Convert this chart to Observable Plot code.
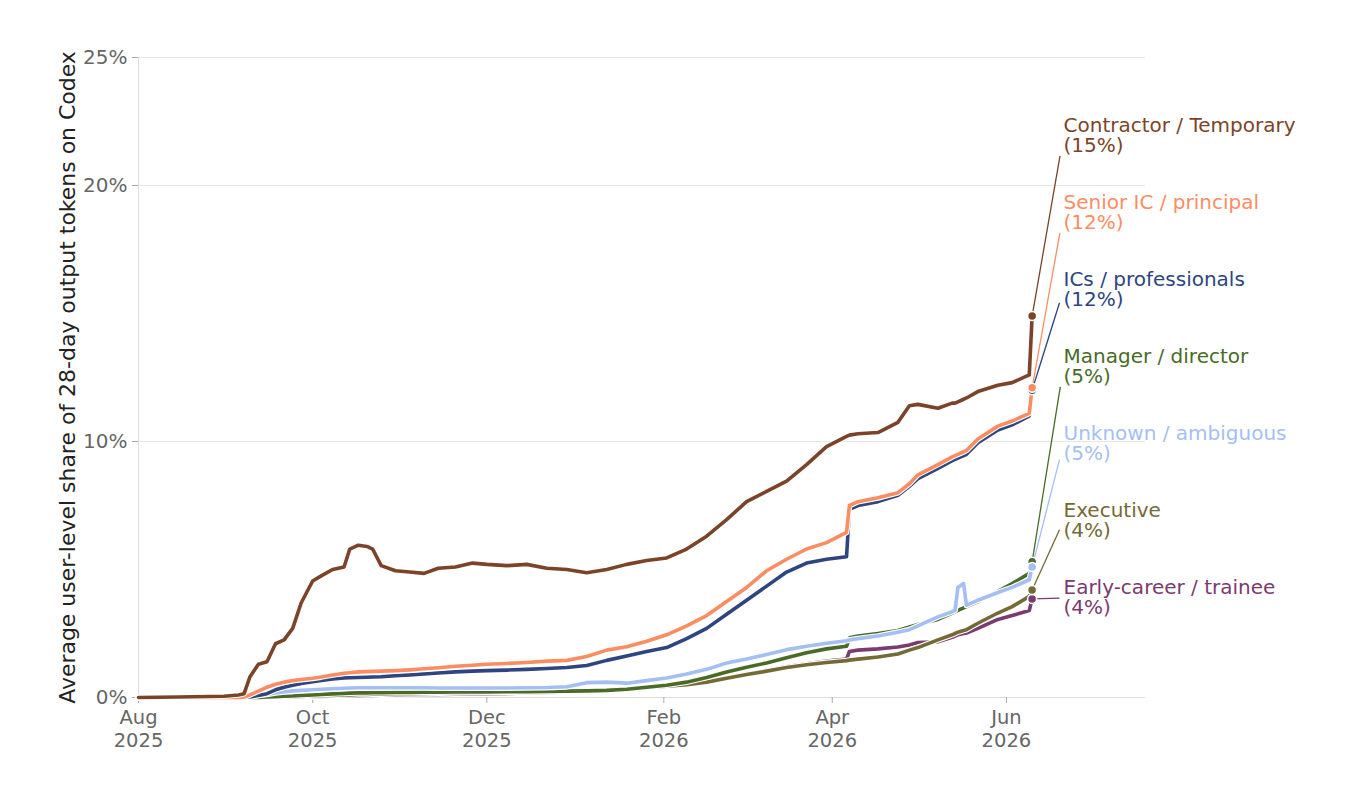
<!DOCTYPE html>
<html><head><meta charset="utf-8">
<script src="https://cdn.jsdelivr.net/npm/d3@7"></script>
<script src="https://cdn.jsdelivr.net/npm/@observablehq/plot@0.6"></script>
<style>body{margin:0;background:#fff;} svg{display:block}</style>
</head><body><div id="chart"></div>
<script>
const dates = [
"2025-08-01","2025-08-15","2025-08-31","2025-09-05","2025-09-07","2025-09-09","2025-09-12","2025-09-15","2025-09-18","2025-09-21",
"2025-09-24","2025-09-27","2025-10-01","2025-10-04","2025-10-08","2025-10-12","2025-10-14","2025-10-17","2025-10-20","2025-10-22",
"2025-10-25","2025-10-30","2025-11-04","2025-11-09","2025-11-14","2025-11-20","2025-11-26","2025-12-01","2025-12-08","2025-12-15",
"2025-12-22","2025-12-29","2026-01-05","2026-01-12","2026-01-19","2026-01-26","2026-02-02","2026-02-09","2026-02-16","2026-02-23",
"2026-03-02","2026-03-09","2026-03-16","2026-03-23","2026-03-30","2026-04-06","2026-04-07","2026-04-10","2026-04-17","2026-04-24",
"2026-04-28","2026-05-01","2026-05-08","2026-05-13","2026-05-14","2026-05-15","2026-05-17","2026-05-18","2026-05-22","2026-05-29",
"2026-06-03","2026-06-09","2026-06-10"];

const contractor = [
0,0.02,0.05,0.1,0.15,0.8,1.3,1.4,2.1,2.25,
2.7,3.7,4.55,4.75,5.0,5.1,5.8,5.95,5.9,5.8,
5.15,4.95,4.9,4.85,5.05,5.1,5.25,5.2,5.15,5.2,
5.05,5.0,4.87,5.0,5.2,5.35,5.45,5.8,6.3,6.95,
7.65,8.05,8.45,9.1,9.8,10.2,10.25,10.3,10.35,10.75,
11.4,11.45,11.3,11.5,11.5,11.55,11.65,11.7,11.95,12.2,
12.3,12.6,14.9];
const seniorIC = [
0,0,0,0,0.02,0.1,0.25,0.4,0.52,0.6,
0.66,0.7,0.75,0.8,0.88,0.95,0.97,1.0,1.01,1.02,
1.03,1.05,1.08,1.12,1.16,1.22,1.26,1.3,1.33,1.37,
1.42,1.45,1.6,1.85,1.98,2.2,2.45,2.8,3.2,3.75,
4.3,4.95,5.4,5.8,6.05,6.45,7.5,7.65,7.8,8.0,
8.35,8.7,9.1,9.4,9.45,9.5,9.6,9.65,10.1,10.6,
10.8,11.1,12.1];
const ics = [
0,0,0,0,0,0.02,0.08,0.15,0.3,0.4,
0.48,0.55,0.62,0.67,0.72,0.76,0.77,0.78,0.79,0.8,
0.81,0.85,0.88,0.92,0.96,1.0,1.03,1.05,1.07,1.1,
1.13,1.17,1.25,1.45,1.62,1.8,1.95,2.3,2.7,3.25,
3.8,4.35,4.9,5.25,5.4,5.5,7.35,7.5,7.65,7.9,
8.25,8.55,8.95,9.25,9.3,9.35,9.45,9.5,9.95,10.45,
10.65,11.0,12.0];
const manager = [
0,0,0,0,0,0,0,0.02,0.03,0.05,
0.06,0.08,0.1,0.12,0.14,0.16,0.17,0.18,0.18,0.19,
0.19,0.2,0.2,0.21,0.21,0.22,0.22,0.22,0.23,0.23,
0.24,0.25,0.26,0.28,0.32,0.4,0.48,0.6,0.78,1.0,
1.18,1.35,1.55,1.75,1.9,2.0,2.33,2.4,2.5,2.62,
2.75,2.85,3.05,3.3,3.35,3.4,3.5,3.55,3.75,4.15,
4.45,4.85,5.3];
const unknown = [
0,0,0,0,0,0.03,0.08,0.12,0.18,0.22,
0.26,0.28,0.3,0.32,0.34,0.36,0.37,0.38,0.38,0.38,
0.38,0.38,0.38,0.38,0.37,0.37,0.37,0.37,0.37,0.38,
0.39,0.42,0.58,0.6,0.56,0.66,0.76,0.92,1.1,1.35,
1.5,1.68,1.87,2.0,2.12,2.22,2.25,2.3,2.4,2.55,
2.65,2.8,3.15,3.35,3.4,4.3,4.45,3.6,3.8,4.1,
4.3,4.6,5.1];
const executive = [
0,0,0,0,0,0,0,0,0.01,0.02,
0.03,0.04,0.06,0.07,0.08,0.1,0.1,0.12,0.12,0.13,
0.13,0.15,0.15,0.16,0.17,0.18,0.19,0.2,0.21,0.22,
0.23,0.25,0.27,0.3,0.33,0.38,0.44,0.5,0.6,0.75,
0.9,1.03,1.17,1.28,1.37,1.44,1.46,1.5,1.58,1.7,
1.85,1.95,2.25,2.45,2.5,2.55,2.62,2.65,2.9,3.3,
3.55,3.95,4.2];
const earlyCareer = [
0,0,0,0,0,0,0,0,0,0,
0.01,0.02,0.03,0.04,0.05,0.06,0.06,0.07,0.08,0.08,
0.09,0.1,0.11,0.12,0.12,0.13,0.14,0.15,0.16,0.18,
0.2,0.22,0.25,0.28,0.31,0.36,0.41,0.5,0.6,0.75,
0.9,1.05,1.2,1.32,1.42,1.5,1.8,1.85,1.9,1.97,
2.05,2.15,2.18,2.35,2.4,2.45,2.5,2.52,2.7,3.05,
3.2,3.4,3.85];

const seriesNames = ["Contractor / Temporary","Senior IC / principal","ICs / professionals","Manager / director","Unknown / ambiguous","Executive","Early-career / trainee"];
const seriesColors = ["#7b4429","#fc8d62","#2e4580","#4a6b26","#a4bff4","#736a35","#7b3a70"];
const xTickDates = ["2025-08-01","2025-10-01","2025-12-01","2026-02-01","2026-04-01","2026-06-01"];
const yTicks = [0,10,20,25];
const yGrid = [10,20,25];
const yLabel = "Average user-level share of 28-day output tokens on Codex";

const seriesValues = [contractor, seniorIC, ics, manager, unknown, executive, earlyCareer];
const parse = d3.utcParse("%Y-%m-%d");

const W=1345, H=785, mL=138, mR=200, mT=57, mB=88;
const xDomain = [parse("2025-08-01"), new Date(Date.UTC(2026,6,19,17))];
const yDomain = [0,25];
const xs = Plot.scale({x:{type:"utc", domain:xDomain, range:[mL, W-mR]}});
const ys = Plot.scale({y:{type:"linear", domain:yDomain, range:[H-mB, mT]}});

const series = seriesNames.map((name,i)=>({
  name, color: seriesColors[i],
  rows: dates.map((d,j)=>({date:parse(d), value:seriesValues[i][j]}))
}));
const n = series.length, last = dates.length-1;
const ends = series.map(s=>({name:s.name, color:s.color, date:s.rows[last].date, value:s.rows[last].value}));

// label layout: stacked upward from the lowest end point
const labelXpx = 1063, step = 77, halfH = 20, leftEdge = 1059;
const baseY = ys.apply(ends[n-1].value) - 1;
const labels = ends.map((e,i)=>{
  const lc = baseY - (n-1-i)*step;
  const px = xs.apply(e.date), py = ys.apply(e.value);
  const tx = (leftEdge - px)/(labelXpx - px);
  const dy = Math.abs(lc - py);
  const ty = dy > halfH ? 1 - halfH/dy : 0;
  const t = Math.max(tx, ty);
  return {
    ...e,
    lx: xs.invert(labelXpx), ly: ys.invert(lc),
    ex: xs.invert(px + t*(labelXpx-px)), ey: ys.invert(py + t*(lc-py)),
    text: `${e.name}\n(${Math.round(e.value)}%)`
  };
});

const drawOrder = [6,5,3,4,2,1,0];
const lineMarks = [];
for (const i of drawOrder) {
  const s = series[i];
  lineMarks.push(Plot.line(s.rows, {x:"date", y:"value", stroke:"white", strokeWidth:5.8, strokeLinejoin:"round"}));
  lineMarks.push(Plot.line(s.rows, {x:"date", y:"value", stroke:s.color, strokeWidth:3.6, strokeLinejoin:"round"}));
}
const dotOrder = [6,5,3,4,2,1,0].map(i=>labels[i]);

const chart = Plot.plot({
  width: W, height: H,
  marginLeft: mL, marginRight: mR, marginTop: mT, marginBottom: mB,
  style: {fontFamily: "DejaVu Sans", background: "white"},
  x: {type:"utc", domain: xDomain},
  y: {domain: yDomain},
  marks: [
    Plot.ruleY(yGrid, {stroke:"#e6e6e6", strokeWidth:1}),
    Plot.ruleY([0], {stroke:"#dcdcdc", strokeWidth:1}),
    Plot.ruleX([xDomain[0]], {stroke:"#dcdcdc", strokeWidth:1}),
    Plot.axisY({ticks: yTicks, tickFormat: d=>d+"%", tickSize:6, tickPadding:5, fontSize:20, stroke:"#aaa", fill:"#666", label:null}),
    Plot.axisX({ticks: xTickDates.map(parse), tickFormat: d3.utcFormat("%b\n%Y"), tickSize:6, tickPadding:4, fontSize:19.5, lineHeight:1.18, stroke:"#aaa", fill:"#666", label:null}),
    ...lineMarks,
    Plot.link(labels, {x1:"date", y1:"value", x2:"ex", y2:"ey", stroke:"color", strokeWidth:1.3}),
    Plot.dot(dotOrder, {x:"date", y:"value", r:4.5, fill:"color", stroke:"white", strokeWidth:1.5}),
    Plot.text(labels, {x:"lx", y:"ly", text:"text", fill:"color", textAnchor:"start", fontSize:20, lineHeight:1.0}),
    Plot.text([yLabel], {frameAnchor:"left", textAnchor:"middle", rotate:-90, dx:-71, dy:0, fontSize:20, fill:"#222", fontFamily:"DejaVu Sans"})
  ]
});
document.getElementById("chart").appendChild(chart);
// fit the y label to the reference's length (~653px)
d3.select(chart).selectAll("text").each(function(){
  if (this.textContent === yLabel) {
    const len = this.getComputedTextLength();
    if (len > 0) {
      const fs = 20*653/len;
      d3.select(this).attr("font-size", fs.toFixed(2)).style("font-size", fs.toFixed(2)+"px");
    }
  }
});
</script>
</body></html>
